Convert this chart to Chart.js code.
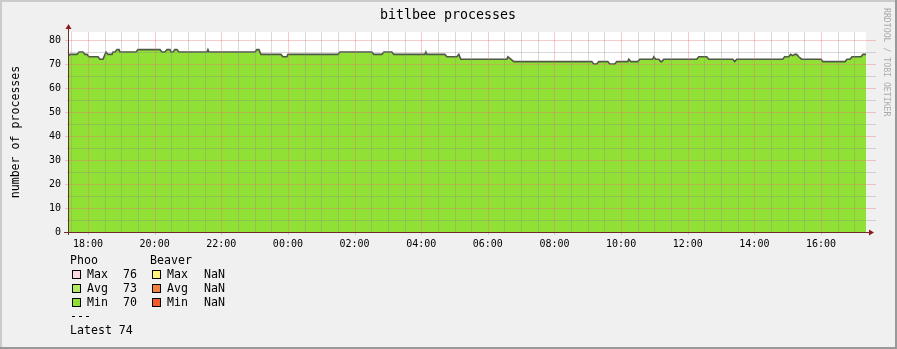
<!DOCTYPE html>
<html>
<head>
<meta charset="utf-8">
<script src="https://cdn.jsdelivr.net/npm/chart.js@4/dist/chart.umd.min.js"></script>
<style>
  html, body { margin: 0; padding: 0; background: #f0f0f0; }
</style>
</head>
<body>
<canvas id="chart" width="897" height="349"></canvas>
<script>
// hours since midnight of the first day (24 = 00:00 next day)
const hours = [
  17.37, 17.46, 17.67, 17.73, 17.85, 17.91, 17.97, 18.03, 18.30, 18.36,
  18.45, 18.54, 18.60, 18.72, 18.75, 18.81, 18.87, 18.93, 18.96, 19.44,
  19.50, 20.16, 20.22, 20.31, 20.37, 20.46, 20.49, 20.55, 20.61, 20.67,
  20.73, 21.57, 21.60, 21.63, 23.01, 23.07, 23.13, 23.19, 23.79, 23.85,
  23.97, 24.00, 25.50, 25.56, 26.52, 26.58, 26.82, 26.88, 27.12, 27.18,
  28.11, 28.14, 28.17, 28.71, 28.77, 29.07, 29.13, 29.19, 30.57, 30.60,
  30.69, 30.78, 33.12, 33.18, 33.27, 33.33, 33.60, 33.66, 33.81, 33.87,
  34.20, 34.23, 34.29, 34.50, 34.56, 34.95, 34.98, 35.04, 35.13, 35.19,
  35.22, 35.28, 36.27, 36.33, 36.57, 36.63, 37.35, 37.41, 37.47, 38.85,
  38.91, 39.03, 39.09, 39.15, 39.21, 39.27, 39.33, 39.42, 40.00, 40.06,
  40.72, 40.78, 40.87, 40.93, 41.20, 41.26, 41.35
];
const processes = [
  73, 74, 74, 75, 75, 74, 74, 73, 73, 72,
  72, 75, 74, 74, 75, 75, 76, 76, 75, 75,
  76, 76, 75, 75, 76, 76, 75, 75, 76, 76,
  75, 75, 76, 75, 75, 76, 76, 74, 74, 73,
  73, 74, 74, 75, 75, 74, 74, 75, 75, 74,
  74, 75, 74, 74, 73, 73, 74, 72, 72, 73,
  72, 71, 71, 70, 70, 71, 71, 70, 70, 71,
  71, 72, 71, 71, 72, 72, 73, 72, 72, 71,
  71, 72, 72, 73, 73, 72, 72, 71, 72, 72,
  73, 73, 74, 73.5, 74, 74, 73, 72, 72, 71,
  71, 72, 72, 73, 73, 74, 74
];

const xMin = 17.4, xMax = 41.35;
const yMax = 83.33;

// labelled ticks
const hourTicks = [18, 20, 22, 24, 26, 28, 30, 32, 34, 36, 38, 40];
const valueTicks = [0, 10, 20, 30, 40, 50, 60, 70, 80];

const legendSeries = ['Phoo', 'Beaver'];
const legendLabels = ['Max', 'Avg', 'Min'];
const phooStats = [76, 73, 70];
const beaverStats = ['NaN', 'NaN', 'NaN'];
const latest = 74;

const phooColors = ['#fdd9e1', '#b4ea62', '#90df35'];
const beaverColors = ['#fff37a', '#f2823f', '#f25a28'];

const FONT = '"DejaVu Sans Mono", monospace';
const GRID = 'rgba(140,140,140,0.33)';
const MGRID = 'rgba(235,110,110,0.36)';

// half hour / 5 unit grid
const xGrid = [];
for (let h = 17.5; h <= 41; h += 0.5) xGrid.push(h);
const yGrid = [];
for (let v = 5; v <= 80; v += 5) yGrid.push(v);

const pad = n => String(n).padStart(2, '0');

const rrdPlugin = {
  id: 'rrdFrame',
  beforeDraw(chart) {
    const { ctx, width, height, chartArea: a } = chart;
    ctx.save();
    ctx.fillStyle = '#f0f0f0';
    ctx.fillRect(0, 0, width, height);
    ctx.fillStyle = '#cbcbcb';
    ctx.fillRect(0, 0, width, 2);
    ctx.fillRect(0, 0, 2, height);
    ctx.fillStyle = '#999999';
    ctx.fillRect(0, height - 2, width, 2);
    ctx.fillRect(width - 2, 0, 2, height);
    ctx.fillStyle = '#ffffff';
    ctx.fillRect(a.left, a.top, a.right - a.left, a.bottom - a.top);
    ctx.restore();
  },
  afterDatasetsDraw(chart) {
    const { ctx, chartArea: a, scales: { x, y } } = chart;
    ctx.save();
    ctx.lineWidth = 1;
    xGrid.forEach(h => {
      const px = Math.round(x.getPixelForValue(h)) + 0.5;
      const major = h % 2 === 0;
      ctx.strokeStyle = major ? MGRID : GRID;
      ctx.beginPath();
      ctx.moveTo(px, a.top);
      ctx.lineTo(px, a.bottom + (major ? 3 : 0));
      ctx.stroke();
    });
    yGrid.forEach(v => {
      const py = Math.round(y.getPixelForValue(v)) + 0.5;
      const major = v % 10 === 0;
      ctx.strokeStyle = major ? MGRID : GRID;
      ctx.beginPath();
      ctx.moveTo(a.left - (major ? 3 : 1), py);
      ctx.lineTo(a.right + 10, py);
      ctx.stroke();
    });
    ctx.restore();
  },
  afterDraw(chart) {
    const { ctx, chartArea: a } = chart;
    ctx.save();

    // title
    ctx.fillStyle = '#000';
    ctx.font = '13.3px ' + FONT;
    ctx.textAlign = 'center';
    ctx.textBaseline = 'middle';
    ctx.fillText('bitlbee processes', 448, 16);

    // watermark
    ctx.save();
    ctx.translate(886, 8);
    ctx.rotate(Math.PI / 2);
    ctx.font = '8.2px ' + FONT;
    ctx.fillStyle = '#aaaaaa';
    ctx.textAlign = 'left';
    ctx.fillText('RRDTOOL / TOBI OETIKER', 0, 0);
    ctx.restore();

    // axes with arrows
    ctx.strokeStyle = '#6e2b2b';
    ctx.lineWidth = 1;
    ctx.beginPath();
    ctx.moveTo(a.left - 4, a.bottom + 0.5);
    ctx.lineTo(a.right + 4, a.bottom + 0.5);
    ctx.moveTo(a.left + 0.5, a.bottom + 3);
    ctx.lineTo(a.left + 0.5, a.top - 3);
    ctx.stroke();
    ctx.fillStyle = '#8b1a1a';
    ctx.beginPath();
    ctx.moveTo(a.right + 8, a.bottom + 0.5);
    ctx.lineTo(a.right + 3, a.bottom - 2.5);
    ctx.lineTo(a.right + 3, a.bottom + 3.5);
    ctx.closePath();
    ctx.fill();
    ctx.beginPath();
    ctx.moveTo(a.left + 0.5, a.top - 8);
    ctx.lineTo(a.left - 2.5, a.top - 3);
    ctx.lineTo(a.left + 3.5, a.top - 3);
    ctx.closePath();
    ctx.fill();

    // legend block
    ctx.font = '11.6px ' + FONT;
    ctx.textAlign = 'left';
    ctx.textBaseline = 'middle';
    ctx.fillStyle = '#000';
    ctx.fillText(legendSeries[0], 70, 261);
    ctx.fillText(legendSeries[1], 150, 261);
    legendLabels.forEach((lab, i) => {
      const yy = 275 + i * 14;
      [[72, phooColors[i], phooStats[i], 87, 123], [152, beaverColors[i], beaverStats[i], 167, 204]]
        .forEach(([bx, col, val, lx, vx]) => {
          ctx.fillStyle = col;
          ctx.fillRect(bx + 0.5, yy - 4.5, 8, 8);
          ctx.strokeStyle = '#000';
          ctx.strokeRect(bx + 0.5, yy - 4.5, 8, 8);
          ctx.fillStyle = '#000';
          ctx.fillText(lab, lx, yy);
          ctx.fillText(String(val), vx, yy);
        });
    });
    ctx.fillText('---', 70, 317);
    ctx.fillText('Latest ' + latest, 70, 331);
    ctx.restore();
  }
};

new Chart(document.getElementById('chart'), {
  type: 'line',
  data: {
    datasets: [{
      label: 'Phoo',
      data: hours.map((h, i) => ({ x: h, y: processes[i] })),
      borderColor: '#4e5845',
      borderWidth: 1.6,
      backgroundColor: '#91e035',
      fill: 'origin',
      pointRadius: 0,
      tension: 0
    }]
  },
  options: {
    responsive: false,
    devicePixelRatio: 1,
    animation: false,
    layout: { padding: { left: 0, right: 31, top: 32, bottom: 0 } },
    plugins: {
      legend: { display: false },
      tooltip: { enabled: false }
    },
    scales: {
      x: {
        type: 'linear',
        min: xMin,
        max: xMax,
        afterBuildTicks: axis => { axis.ticks = hourTicks.map(v => ({ value: v })); },
        afterFit: s => { s.height = 117; },
        border: { display: false },
        grid: { display: true, drawOnChartArea: false, color: 'rgba(0,0,0,0)', tickLength: 3 },
        ticks: {
          autoSkip: false,
          maxRotation: 0,
          padding: 3,
          color: '#000',
          font: { family: FONT, size: 10 },
          callback: v => pad(v % 24) + ':00'
        }
      },
      y: {
        min: 0,
        max: yMax,
        afterBuildTicks: axis => { axis.ticks = valueTicks.map(v => ({ value: v })); },
        afterFit: s => { s.width = 68; },
        border: { display: false },
        title: {
          display: true,
          text: 'number of processes',
          color: '#000',
          font: { family: FONT, size: 11.6 },
          padding: { top: 9, bottom: 0 }
        },
        grid: { display: true, drawOnChartArea: false, color: 'rgba(0,0,0,0)', tickLength: 4 },
        ticks: {
          autoSkip: false,
          padding: 3,
          color: '#000',
          font: { family: FONT, size: 10 },
          callback: v => String(v)
        }
      }
    }
  },
  plugins: [rrdPlugin]
});
</script>
</body>
</html>
